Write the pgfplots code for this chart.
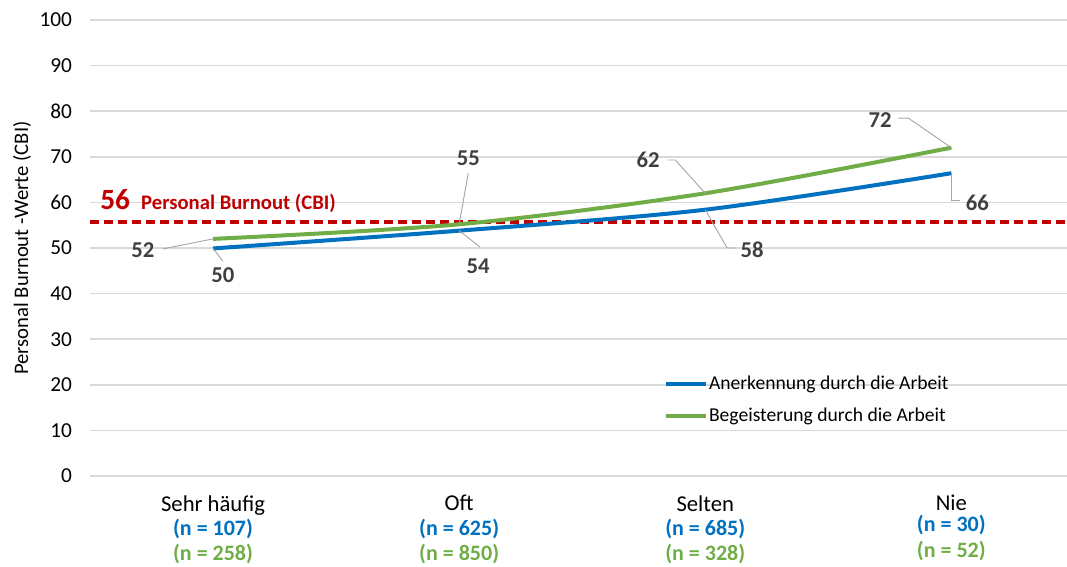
\documentclass[border=0pt]{standalone}
\usepackage{pgfplots}
\pgfplotsset{compat=1.18}
\usepackage{fontspec}
\setmainfont{Carlito}

\definecolor{cblue}{HTML}{0070C0}
\definecolor{cgreen}{HTML}{70AD47}
\definecolor{cred}{HTML}{C00000}
\definecolor{lblgray}{HTML}{404040}
\definecolor{gridgray}{HTML}{D9D9D9}

\begin{document}
\begin{tikzpicture}
\useasboundingbox (-67.5pt,-68.25pt) rectangle (732.75pt,357pt);
\begin{axis}[
    at={(0,0)}, anchor=south west,
    scale only axis,
    width=732.75pt, height=342pt,
    xmin=-0.5, xmax=3.47,
    ymin=0, ymax=100,
    ytick={0,10,...,100},
    xtick={0,1,2,3},
    xticklabels={
      {Sehr häufig\\[0pt]\fontsize{16.5}{18}\selectfont\textcolor{cblue}{\bfseries (n = 107)}\\[0pt]\fontsize{16.5}{18}\selectfont\textcolor{cgreen}{\bfseries (n = 258)}},
      {Oft\\[0pt]\fontsize{16.5}{18}\selectfont\textcolor{cblue}{\bfseries (n = 625)}\\[0pt]\fontsize{16.5}{18}\selectfont\textcolor{cgreen}{\bfseries (n = 850)}},
      {Selten\\[0pt]\fontsize{16.5}{18}\selectfont\textcolor{cblue}{\bfseries (n = 685)}\\[0pt]\fontsize{16.5}{18}\selectfont\textcolor{cgreen}{\bfseries (n = 328)}},
      {Nie\\[-3pt]\fontsize{16.5}{18}\selectfont\textcolor{cblue}{\bfseries (n = 30)}\\[1pt]\fontsize{16.5}{18}\selectfont\textcolor{cgreen}{\bfseries (n = 52)}}
    },
    xticklabel style={align=center, font=\fontsize{17}{18.5}\selectfont, anchor=north, yshift=-11pt},
    yticklabel style={font=\fontsize{16}{17}\selectfont, anchor=east, xshift=-10pt},
    /pgf/number format/assume math mode=true,
    major tick length=0pt,
    axis line style={draw=none},
    ymajorgrids,
    grid style={gridgray, line width=1.1pt},
    legend style={draw=none, fill=none, at={(axis cs:1.83,23.2)}, anchor=north west,
      font=\fontsize{14.7}{16}\selectfont, row sep=8.5pt, inner xsep=0pt,
      nodes={inner xsep=1pt}},
    legend cell align=left,
    legend image code/.code={\draw[#1] (0pt,0pt) -- (30pt,0pt);},
    clip=false,
]
% reference line
\addplot[cred, line width=3pt, dash pattern=on 6.75pt off 3.75pt, forget plot] coordinates {(-0.5,55.7) (3.47,55.7)};

\addplot[cblue, line width=3pt, smooth] coordinates {(0,49.9) (1,53.8) (2,58.4) (3,66.4)};
\addlegendentry{Anerkennung durch die Arbeit}
\addplot[cgreen, line width=3pt, smooth] coordinates {(0,52.0) (1,55.2) (2,62.0) (3,72.0)};
\addlegendentry{Begeisterung durch die Arbeit}

% leader lines
\draw[gray!70, line width=0.7pt] (axis cs:0,49.9) -- (axis cs:0.04,47.1);
\draw[gray!70, line width=0.7pt] (axis cs:-0.203,49.8) -- (axis cs:0,52.0);
\draw[gray!70, line width=0.7pt] (axis cs:1,53.8) -- (axis cs:1.085,50.2);
\draw[gray!70, line width=0.7pt] (axis cs:1.037,66.4) -- (axis cs:1,55.2);
\draw[gray!70, line width=0.7pt] (axis cs:1.846,69.3) -- (axis cs:1.878,69.3) -- (axis cs:2,62.0);
\draw[gray!70, line width=0.7pt] (axis cs:2,58.4) -- (axis cs:2.089,50.0) -- (axis cs:2.122,50.0);
\draw[gray!70, line width=0.7pt] (axis cs:2.785,78.5) -- (axis cs:2.825,78.5) -- (axis cs:3,72.0);
\draw[gray!70, line width=0.7pt] (axis cs:3,66.4) -- (axis cs:3,60.5) -- (axis cs:3.037,60.5);

% data labels
\begin{scope}[every node/.style={font=\fontsize{17}{18}\selectfont\bfseries, text=lblgray}]
\node at (axis cs:0.04,44.1) {50};
\node at (axis cs:-0.285,49.6) {52};
\node at (axis cs:1.077,46.1) {54};
\node at (axis cs:1.037,69.7) {55};
\node at (axis cs:1.768,69.3) {62};
\node at (axis cs:2.19,49.6) {58};
\node at (axis cs:2.711,78.1) {72};
\node at (axis cs:3.106,59.9) {66};
\end{scope}

% reference line label
\node[anchor=base west, inner sep=0pt, text=cred, font=\fontsize{22}{24}\selectfont\bfseries] at (axis cs:-0.459,58.55) {56};
\node[anchor=base west, inner sep=0pt, text=cred, font=\fontsize{15.5}{17}\selectfont\bfseries] at (axis cs:-0.293,58.55) {Personal Burnout (CBI)};

% y axis title
\node[rotate=90, anchor=center, font=\fontsize{15.5}{17}\selectfont] at ([xshift=-51pt]rel axis cs:0,0.5) {Personal Burnout -Werte (CBI)};
\end{axis}
\end{tikzpicture}
\end{document}
